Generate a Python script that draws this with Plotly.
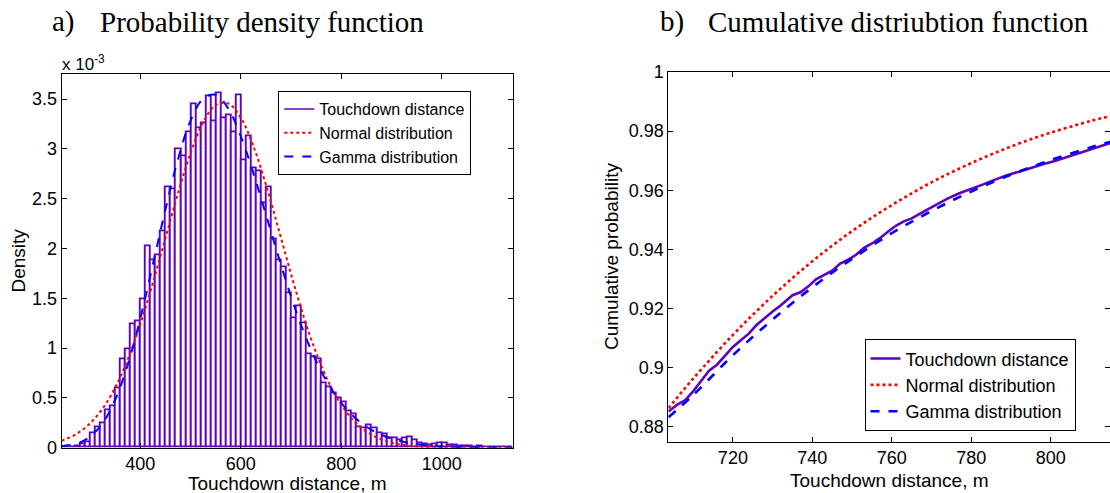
import plotly.graph_objects as go

# ---------------- data ----------------
# histogram: bin centres (m) and density (x 10^-3)
bin_width = 10.0
bin_centers = [246.4 + 10 * i for i in range(90)]
hist_density = [
    0.0, 0.0, 0.005, 0.01, 0.034, 0.054, 0.145, 0.20, 0.25, 0.38,
    0.42, 0.60, 0.887, 0.99, 1.24, 1.265, 1.49, 2.02, 1.88, 1.93,
    2.17, 2.61, 2.59, 3.00, 2.93, 3.17, 3.45, 3.21, 3.26, 3.53,
    3.28, 3.56, 3.31, 3.34, 3.17, 3.54, 2.89, 3.13, 2.81, 2.78,
    2.45, 2.61, 2.09, 1.88, 1.81, 1.55, 1.30, 1.42, 1.25, 0.94,
    0.91, 0.89, 0.65, 0.61, 0.55, 0.50, 0.46, 0.37, 0.34, 0.20,
    0.19, 0.22, 0.19, 0.14, 0.13, 0.09, 0.09, 0.07, 0.09, 0.10,
    0.07, 0.04, 0.03, 0.027, 0.03, 0.04, 0.04, 0.027, 0.02, 0.015,
    0.01, 0.01, 0.005, 0.01, 0.005, 0.0, 0.005, 0.0, 0.0, 0.005,
]

# fitted pdf curves (x 10^-3)
pdf_x = [243.6, 250, 275, 300, 325, 350, 375, 400, 425, 450, 475, 500, 525,
         550, 575, 600, 625, 650, 675, 700, 725, 750, 775, 800, 825, 850,
         875, 900, 925, 950, 975, 1000, 1050, 1100, 1141]
normal_pdf = [0.069, 0.082, 0.144, 0.244, 0.393, 0.604, 0.886, 1.239, 1.654,
              2.104, 2.554, 2.957, 3.265, 3.440, 3.456, 3.312, 3.028, 2.640,
              2.196, 1.742, 1.318, 0.951, 0.655, 0.430, 0.269, 0.161, 0.092,
              0.050, 0.026, 0.013, 0.006, 0.003, 0.0005, 0.0001, 0.0]
gamma_pdf = [0.015, 0.02, 0.041, 0.111, 0.246, 0.481, 0.833, 1.297, 1.838,
             2.392, 2.897, 3.284, 3.504, 3.543, 3.405, 3.127, 2.757, 2.340,
             1.917, 1.517, 1.164, 0.868, 0.632, 0.448, 0.311, 0.210, 0.140,
             0.091, 0.058, 0.036, 0.023, 0.013, 0.005, 0.0016, 0.0006]

# cumulative distribution
emp_x = [703.8, 706, 708, 710, 712, 714, 716, 718, 720, 722, 724, 726, 728,
         730, 732, 734, 735, 737, 739, 741, 743, 745, 747, 749, 751, 753,
         755, 757, 759, 761, 763, 765, 768, 771, 774, 777, 780, 783, 786,
         789, 792, 795, 798, 801, 804, 807, 810, 813, 815]
emp_cdf = [0.8852, 0.8875, 0.8890, 0.8920, 0.8955, 0.8990, 0.9010, 0.9040,
           0.9070, 0.9093, 0.9115, 0.9145, 0.9168, 0.9190, 0.9210, 0.9232,
           0.9245, 0.9255, 0.9275, 0.9300, 0.9315, 0.9328, 0.9352, 0.9365,
           0.9382, 0.9405, 0.9420, 0.9438, 0.9460, 0.9480, 0.9495, 0.9505,
           0.9528, 0.9550, 0.9572, 0.9590, 0.9604, 0.9620, 0.9636, 0.9651,
           0.9663, 0.9676, 0.9688, 0.9699, 0.9712, 0.9725, 0.9737, 0.9750,
           0.9760]
fit_x = [703.8, 710, 720, 730, 740, 750, 760, 770, 780, 790, 800, 810, 815]
normal_cdf = [0.8863, 0.8963, 0.9111, 0.9243, 0.9360, 0.9462, 0.9550, 0.9627,
              0.9692, 0.9748, 0.9795, 0.9834, 0.9851]
gamma_cdf = [0.8832, 0.8907, 0.9042, 0.9163, 0.9272, 0.9368, 0.9455, 0.9530,
             0.9596, 0.9653, 0.9702, 0.9745, 0.9764]

pdf_yticks = [0, 0.5, 1, 1.5, 2, 2.5, 3, 3.5]
pdf_xticks = [400, 600, 800, 1000]
cdf_yticks = [0.88, 0.9, 0.92, 0.94, 0.96, 0.98, 1.0]
cdf_ytext = ["0.88", "0.9", "0.92", "0.94", "0.96", "0.98", "1"]
cdf_xticks = [720, 740, 760, 780, 800]

# ---------------- styling ----------------
W, H = 1110, 493
PURPLE = "#6000C0"
SANS = "Liberation Sans, Arial, sans-serif"
SERIF = "Liberation Serif, Times New Roman, serif"

def px(x):
    return x / W

def py(y):
    return 1 - y / H

fig = go.Figure()

fig.add_trace(go.Bar(
    x=bin_centers, y=hist_density, width=bin_width,
    marker=dict(color="white", line=dict(color=PURPLE, width=1.9)),
    showlegend=False, xaxis="x", yaxis="y", name="Touchdown distance"))
fig.add_trace(go.Scatter(
    x=[None], y=[None], mode="lines", name="Touchdown distance",
    line=dict(color=PURPLE, width=1.5), legend="legend",
    xaxis="x", yaxis="y"))
fig.add_trace(go.Scatter(
    x=pdf_x, y=normal_pdf, mode="lines", name="Normal distribution",
    line=dict(color="#FF0000", width=2, dash="dot", shape="spline"),
    legend="legend", xaxis="x", yaxis="y"))
fig.add_trace(go.Scatter(
    x=pdf_x, y=gamma_pdf, mode="lines", name="Gamma distribution",
    line=dict(color="#0000FF", width=2, dash="dash", shape="spline"),
    legend="legend", xaxis="x", yaxis="y"))

fig.add_trace(go.Scatter(
    x=emp_x, y=emp_cdf, mode="lines", name="Touchdown distance",
    line=dict(color=PURPLE, width=2.6), legend="legend2",
    xaxis="x2", yaxis="y2"))
fig.add_trace(go.Scatter(
    x=fit_x, y=normal_cdf, mode="lines", name="Normal distribution",
    line=dict(color="#FF0000", width=2.6, dash="dot", shape="spline"),
    legend="legend2", xaxis="x2", yaxis="y2"))
fig.add_trace(go.Scatter(
    x=fit_x, y=gamma_cdf, mode="lines", name="Gamma distribution",
    line=dict(color="#0000FF", width=2.6, dash="dash", shape="spline"),
    legend="legend2", xaxis="x2", yaxis="y2"))

axis_common = dict(showline=True, linecolor="black", linewidth=1,
                   mirror="allticks", ticks="inside", ticklen=5,
                   tickcolor="black", showgrid=False, zeroline=False,
                   automargin=False,
                   tickfont=dict(family=SANS, size=18, color="black"))

fig.update_layout(
    width=W, height=H, autosize=False,
    margin=dict(l=0, r=0, t=0, b=0, pad=0),
    paper_bgcolor="white", plot_bgcolor="white",
    bargap=0,
    xaxis=dict(domain=[px(61.7), px(512.7)], range=[243.6, 1141],
               tickvals=pdf_xticks, anchor="y", **axis_common),
    yaxis=dict(domain=[py(447.7), py(74.3)], range=[0, 3.749],
               tickvals=pdf_yticks,
               ticktext=[("%g" % v) for v in pdf_yticks],
               anchor="x", **axis_common),
    xaxis2=dict(domain=[px(668.3), 1.0], range=[703.75, 814.9],
                tickvals=cdf_xticks, anchor="y2", **axis_common),
    yaxis2=dict(domain=[py(441.6), py(72)], range=[0.875, 1.0],
                tickvals=cdf_yticks, ticktext=cdf_ytext,
                anchor="x2", **axis_common),
    legend=dict(x=px(278.3), y=py(91), xanchor="left", yanchor="top",
                bgcolor="white", bordercolor="black", borderwidth=1,
                font=dict(family=SANS, size=16, color="black"),
                itemwidth=30, tracegroupgap=0),
    legend2=dict(x=px(864.5), y=py(339.3), xanchor="left", yanchor="top",
                 bgcolor="white", bordercolor="black", borderwidth=1,
                 font=dict(family=SANS, size=18, color="black"),
                 itemwidth=30, tracegroupgap=0),
)

ann = [
    dict(text="a)", x=px(50), y=py(22), xanchor="left", yanchor="middle",
         font=dict(family=SERIF, size=29)),
    dict(text="Probability density function", x=px(98), y=py(22),
         xanchor="left", yanchor="middle", font=dict(family=SERIF, size=29)),
    dict(text="b)", x=px(658), y=py(22), xanchor="left", yanchor="middle",
         font=dict(family=SERIF, size=29)),
    dict(text="Cumulative distriubtion function", x=px(705.6), y=py(22),
         xanchor="left", yanchor="middle", font=dict(family=SERIF, size=29)),
    dict(text="x 10<sup>-3</sup>", x=px(60), y=py(76), xanchor="left",
         yanchor="bottom", font=dict(family=SANS, size=17)),
    dict(text="Density", x=px(17.5), y=py(261), textangle=-90,
         xanchor="center", yanchor="middle", font=dict(family=SANS, size=19)),
    dict(text="Cumulative probability", x=px(611), y=py(257), textangle=-90,
         xanchor="center", yanchor="middle", font=dict(family=SANS, size=19)),
    dict(text="Touchdown distance, m", x=px(287.2), y=py(483),
         xanchor="center", yanchor="middle", font=dict(family=SANS, size=19)),
    dict(text="Touchdown distance, m", x=px(889), y=py(480),
         xanchor="center", yanchor="middle", font=dict(family=SANS, size=19)),
]
for a in ann:
    a.update(xref="paper", yref="paper", showarrow=False)
    a["font"]["color"] = "black"
fig.update_layout(annotations=ann)

fig.write_html("out.html")
